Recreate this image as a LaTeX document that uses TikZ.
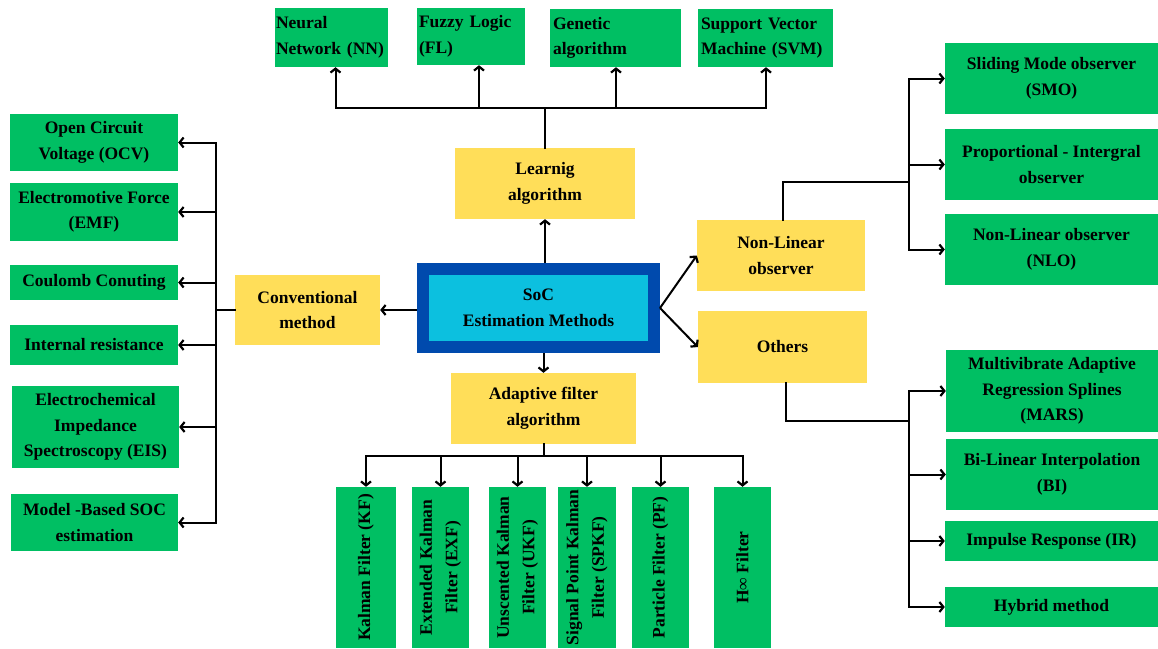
\documentclass[tikz,border=0pt]{standalone}
\usepackage{fontspec}
\setmainfont{Liberation Serif}
\usetikzlibrary{arrows.meta}
\definecolor{boxgreen}{HTML}{00BF63}
\definecolor{boxyellow}{HTML}{FFDE59}
\definecolor{boxcyan}{HTML}{0CC0DF}
\definecolor{boxblue}{HTML}{004AAD}
\tikzset{
  base/.style={inner sep=3pt, align=center, text=black,
    font=\bfseries\fontsize{17.5}{25.5}\selectfont},
  gbox/.style={base, fill=boxgreen},
  ybox/.style={base, fill=boxyellow},
  tbox/.style={gbox, inner xsep=1pt, align=left},
  rtext/.style={base, rotate=90, inner sep=0pt},
  ln/.style={line width=2pt, line cap=rect},
  arr/.style={line width=2pt, -{Straight Barb[length=4pt,width=10pt,line width=2.2pt]}},
}
\begin{document}
\begin{tikzpicture}[x=1pt,y=-1pt]
\useasboundingbox (0,0) rectangle (1158,648);

% centre
\node[base, fill=boxcyan, draw=boxblue, line width=12pt, minimum width=231, minimum height=78] (soc) at (538.5,308) {SoC\\Estimation Methods};
\node[ybox, minimum width=180, minimum height=71] (learn) at (545,183.5) {Learnig\\algorithm};
\node[ybox, minimum width=145, minimum height=70] (conv) at (307.5,310) {Conventional\\method};
\node[ybox, minimum width=185, minimum height=71] (adapt) at (543.5,408.5) {Adaptive filter\\algorithm};
\node[ybox, minimum width=168, minimum height=71] (nonlin) at (781,255.5) {Non-Linear\\observer};
\node[ybox, minimum width=169, minimum height=72] (others) at (782.5,347) {Others};

% top row
\node[tbox, minimum width=113, minimum height=59, text width=111] (nn) at (331.5,37.5) {Neural\\Network (NN)};
\node[tbox, minimum width=108, minimum height=57, text width=104] (fl) at (471,36.5) {Fuzzy Logic\\(FL)};
\node[tbox, minimum width=131, minimum height=58, text width=125] (ga) at (615.5,38) {Genetic\\algorithm};
\node[tbox, minimum width=135, minimum height=58, text width=129] (svm) at (765.5,38) {Support Vector\\Machine (SVM)};

% left column
\node[gbox, minimum width=168, minimum height=57] (ocv) at (94,142.5) {Open Circuit\\Voltage (OCV)};
\node[gbox, minimum width=168, minimum height=58] (emf) at (94,212) {Electromotive Force\\(EMF)};
\node[gbox, minimum width=168, minimum height=35] (cc) at (94,282.5) {Coulomb Conuting};
\node[gbox, minimum width=168, minimum height=40] (ir) at (94,345) {Internal resistance};
\node[gbox, minimum width=167, minimum height=82] (eis) at (95.5,427) {Electrochemical\\Impedance\\Spectroscopy (EIS)};
\node[gbox, minimum width=167, minimum height=57] (mb) at (94.5,522.5) {Model -Based SOC\\estimation};

% right column
\node[gbox, minimum width=213, minimum height=71] (smo) at (1051.5,78.5) {Sliding Mode observer\\(SMO)};
\node[gbox, minimum width=213, minimum height=71] (pio) at (1051.5,164.5) {Proportional - Intergral\\observer};
\node[gbox, minimum width=213, minimum height=71] (nlo) at (1051.5,249.5) {Non-Linear observer\\(NLO)};
\node[gbox, minimum width=212, minimum height=82] (mars) at (1052,391) {Multivibrate Adaptive\\Regression Splines\\(MARS)};
\node[gbox, minimum width=212, minimum height=71] (bi) at (1052,474.5) {Bi-Linear Interpolation\\(BI)};
\node[gbox, minimum width=213, minimum height=40] (irr) at (1051.5,541) {Impulse Response (IR)};
\node[gbox, minimum width=213, minimum height=40] (hyb) at (1051.5,607) {Hybrid method};

% bottom row
\node[gbox, minimum width=60, minimum height=161] (kf) at (366,567.5) {};
\node[gbox, minimum width=57, minimum height=161] (ekf) at (440.5,567.5) {};
\node[gbox, minimum width=57, minimum height=161] (ukf) at (517.5,567.5) {};
\node[gbox, minimum width=58, minimum height=161] (spkf) at (587,567.5) {};
\node[gbox, minimum width=57, minimum height=161] (pf) at (660.5,567.5) {};
\node[gbox, minimum width=57, minimum height=161] (hinf) at (742.5,567.5) {};
\node[rtext] (kft) at (kf.center) {Kalman Filter (KF)};
\node[rtext] (ekft) at (ekf.center) {Extended Kalman\\Filter (EXF)};
\node[rtext] (ukft) at (ukf.center) {Unscented Kalman\\Filter (UKF)};
\node[rtext] (spkft) at (spkf.center) {Signal Point Kalman\\Filter (SPKF)};
\node[rtext] (pft) at (pf.center) {Particle Filter (PF)};
\node[rtext] (hinft) at (hinf.center) {H∞ Filter};

% centre arrows
\draw[arr] (learn.south |- soc.north) -- (learn.south);
\draw[arr] (adapt.north |- soc.south) -- (adapt.north);
\draw[arr] (soc.west |- conv.east) -- (conv.east);
\draw[arr] (soc.east) -- (nonlin.west);
\draw[arr] (soc.east) -- (others.west);

% top tree
\coordinate (tb) at (0,108);
\coordinate (nnA) at ([xshift=4]nn.south);
\coordinate (flA) at ([xshift=8]fl.south);
\coordinate (gaA) at ([xshift=0.5]ga.south);
\coordinate (svmA) at ([xshift=0.5]svm.south);
\draw[ln] (learn.north) -- (learn.north |- tb);
\draw[ln] (nnA |- tb) -- (svmA |- tb);
\draw[arr] (nnA |- tb) -- (nnA);
\draw[arr] (flA |- tb) -- (flA);
\draw[arr] (gaA |- tb) -- (gaA);
\draw[arr] (svmA |- tb) -- (svmA);

% left tree
\coordinate (lb) at (216,310);
\draw[ln] (conv.west) -- (lb);
\draw[ln] (lb |- ocv.east) -- (lb |- mb.east);
\foreach \n in {ocv,emf,cc,ir,eis,mb} \draw[arr] (lb |- \n.east) -- (\n.east);

% right upper tree
\coordinate (rt) at (909,182);
\coordinate (nlA) at ([xshift=2]nonlin.north);
\draw[ln] (nlA) -- (nlA |- rt) -- (rt);
\draw[ln] (rt |- smo.west) -- (rt |- nlo.west);
\foreach \n in {smo,pio,nlo} \draw[arr] (rt |- \n.west) -- (\n.west);

% right lower tree
\coordinate (rb) at (909,421);
\coordinate (othA) at ([xshift=3.5]others.south);
\draw[ln] (othA) -- (othA |- rb) -- (rb);
\draw[ln] (rb |- mars.west) -- (rb |- hyb.west);
\foreach \n in {mars,bi,irr,hyb} \draw[arr] (rb |- \n.west) -- (\n.west);

% bottom tree
\coordinate (bb) at (544,456);
\draw[ln] (adapt.south) -- (adapt.south |- bb);
\draw[ln] (kf.north |- bb) -- (hinf.north |- bb);
\foreach \n in {kf,ekf,ukf,spkf,pf,hinf} \draw[arr] (\n.north |- bb) -- (\n.north);
\end{tikzpicture}
\end{document}
